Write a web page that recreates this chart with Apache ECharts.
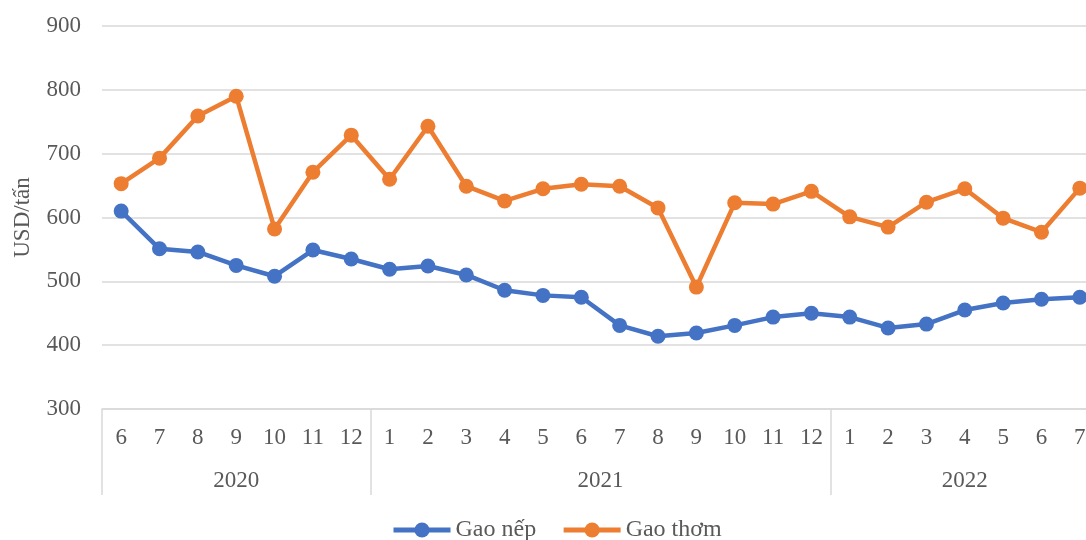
<!DOCTYPE html>
<html>
<head>
<meta charset="utf-8">
<script src="https://cdn.jsdelivr.net/npm/echarts@6/dist/echarts.min.js"></script>
<style>
  html, body { margin: 0; padding: 0; background: #fff; }
  #chart { width: 1086px; height: 540px; }
</style>
</head>
<body>
<div id="chart"></div>
<script>
// du lieu doc tu hinh
const years = ['2020', '2021', '2022']
const monthsByYear = [
  ['6', '7', '8', '9', '10', '11', '12'],
  ['1', '2', '3', '4', '5', '6', '7', '8', '9', '10', '11', '12'],
  ['1', '2', '3', '4', '5', '6', '7']
]
const gaoNep = [610, 551, 546, 525, 508, 549, 535, 519, 524, 510, 486, 478, 475, 431, 414, 419, 431, 444, 450, 444, 427, 433, 455, 466, 472, 475]
const gaoThom = [653, 693, 759, 790, 582, 671, 729, 660, 743, 649, 626, 645, 652, 649, 615, 491, 623, 621, 641, 601, 585, 624, 645, 599, 577, 646]

const months = [].concat(...monthsByYear)
const n = months.length

// truc phu cho nam: 2n+1 diem, khong boundaryGap
const yearSlots = []
const tickIdx = [0]
const labelIdx = {}
let pos = 0
monthsByYear.forEach((m, i) => {
  labelIdx[pos + m.length] = years[i]
  pos += m.length * 2
  tickIdx.push(pos)
})
for (let j = 0; j <= 2 * n; j++) yearSlots.push(labelIdx[j] || '')

const font = 'Liberation Serif'
const textColor = '#595959'
const gridColor = '#d9d9d9'
const fs = 23

const chart = echarts.init(document.getElementById('chart'))
chart.setOption({
  animation: false,
  textStyle: { fontFamily: font },
  grid: { left: 102, right: -13, top: 26, bottom: 131, outerBoundsMode: 'none', containLabel: false },
  legend: {
    bottom: -7,
    left: 386,
    itemWidth: 57,
    itemHeight: 19,
    itemGap: 25,
    lineStyle: { width: 5 },
    textStyle: { fontFamily: font, fontSize: 24, color: textColor },
    data: ['Gao nếp', 'Gao thơm']
  },
  xAxis: [
    {
      type: 'category',
      data: months,
      boundaryGap: true,
      axisLine: { show: true, lineStyle: { color: gridColor, width: 1.5 } },
      axisTick: { show: false },
      axisLabel: { interval: 0, margin: 17, fontFamily: font, fontSize: fs, color: textColor }
    },
    {
      type: 'category',
      data: yearSlots,
      boundaryGap: false,
      position: 'bottom',
      axisLine: { show: false },
      axisTick: {
        show: true,
        length: 86,
        interval: (i) => tickIdx.includes(i),
        lineStyle: { color: gridColor, width: 1.5 }
      },
      axisLabel: {
        interval: (i) => yearSlots[i] !== '',
        margin: 60,
        fontFamily: font, fontSize: fs, color: textColor
      }
    }
  ],
  yAxis: {
    type: 'value',
    min: 300,
    max: 900,
    interval: 100,
    name: 'USD/tấn',
    nameLocation: 'middle',
    nameGap: 68,
    nameTextStyle: { fontFamily: font, fontSize: fs, color: textColor },
    axisLine: { show: false },
    axisTick: { show: false },
    axisLabel: { margin: 21, fontFamily: font, fontSize: fs, color: textColor },
    splitLine: { lineStyle: { color: gridColor, width: 1.5 } }
  },
  series: [
    {
      name: 'Gao nếp',
      type: 'line',
      data: gaoNep,
      symbol: 'circle',
      symbolSize: 15,
      itemStyle: { color: '#4472C4' },
      lineStyle: { color: '#4472C4', width: 4.5 }
    },
    {
      name: 'Gao thơm',
      type: 'line',
      data: gaoThom,
      symbol: 'circle',
      symbolSize: 15,
      itemStyle: { color: '#ED7D31' },
      lineStyle: { color: '#ED7D31', width: 4.5 }
    }
  ]
})
</script>
</body>
</html>
